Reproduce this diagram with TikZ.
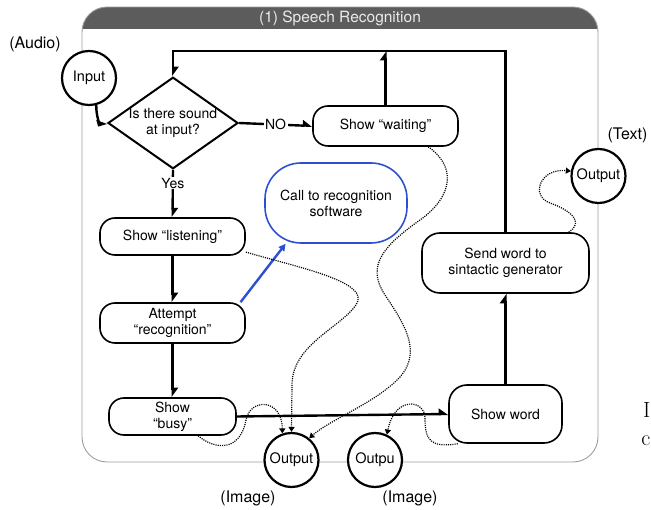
\documentclass[tikz,border=0pt]{standalone}
\usepackage{fontspec}
\setsansfont{TeX Gyre Heros}
\usetikzlibrary{shapes.geometric,arrows.meta}

\definecolor{hdrgray}{HTML}{5C5C5C}
\definecolor{framegray}{HTML}{9C9C9C}
\definecolor{callblue}{HTML}{2E4FD0}

\begin{document}
\begin{tikzpicture}[x=1pt,y=-1pt,font=\sffamily\fontsize{14}{16}\selectfont,
  box/.style={draw,line width=1.6pt,rounded corners=15pt,align=center,inner sep=0pt},
  io/.style={draw,circle,line width=2.2pt,minimum size=54pt,inner sep=0pt,fill=white,font=\sffamily\fontsize{14.5}{16}\selectfont},
  lbl/.style={font=\sffamily\fontsize{16}{18}\selectfont},
  flow/.style={line width=2.4pt,-{Triangle[harpoon,length=8pt,width=11pt]}},
  dotline/.style={line width=1.2pt,dash pattern=on 1.1pt off 1.1pt,-{Triangle[length=5pt,width=6pt]}}]
\useasboundingbox (0,0) rectangle (651,510);

% frame with title bar
\begin{scope}
\clip[rounded corners=25pt] (82,7) rectangle (598,462);
\fill[hdrgray] (82,7) rectangle (598,29);
\end{scope}
\draw[framegray,line width=0.9pt,rounded corners=25pt] (82,7) rectangle (598,462);
\node[text=white!92!black,font=\sffamily\fontsize{15.5}{18}\selectfont] (title) at (340,18) {(1) Speech Recognition};

% steps
\node[io] (in) at (89,78) {Input};
\node[lbl] (audio) at (35,44) {(Audio)};
\node[draw,diamond,aspect=1.42,line width=2pt,inner sep=0pt,align=center,
  minimum width=128pt,minimum height=90pt] (sound) at (173,123) {Is there sound\\at input?};
\node[box,minimum width=145pt,minimum height=40pt] (waiting) at (385.5,126) {Show ``waiting''};
\node[box,minimum width=145pt,minimum height=37pt] (listen) at (172.5,236.5) {Show ``listening''};
\node[box,minimum width=145pt,minimum height=40pt] (attempt) at (172.5,323) {Attempt\\``recognition''};
\node[box,minimum width=127pt,minimum height=37pt] (busy) at (172.5,416.5) {Show\\``busy''};
\node[box,draw=callblue,rounded corners=36pt,minimum width=142pt,minimum height=80pt] (call) at (336,203) {Call to recognition\\software};
\node[box,rounded corners=18pt,minimum width=113pt,minimum height=58pt] (word) at (505.5,414) {Show word};
\node[box,rounded corners=18pt,minimum width=167pt,minimum height=60pt] (send) at (505.5,263) {Send word to\\sintactic generator};

% outputs
\node[io] (out1) at (291.5,460) {Output};
\node[io] (out2) at (375,460) {Outpu};
\node[io] (out3) at (598.5,176) {Output};
\node[lbl] (img1) at (248,498) {(Image)};
\node[lbl] (img2) at (410,498) {(Image)};
\node[lbl,anchor=east] (txt) at (651,135) {(Text)};
\node[anchor=east,inner sep=0.5pt,font=\rmfamily\fontsize{22}{24}\selectfont] (strayI) at (651,410) {I};
\node[anchor=east,inner sep=0.5pt,font=\rmfamily\fontsize{22}{24}\selectfont] (strayc) at (651,441) {c};

% main flow
\coordinate (loop) at (300,51);
\draw[flow] (in.-75) .. controls (96,116) and (100,125) .. (sound.west);
\draw[flow] (sound.east) -- node[fill=white,inner sep=1.5pt] (no) {NO} (waiting.west);
\draw[flow] (sound.south) -- node[fill=white,inner sep=1pt,pos=0.28] (yes) {Yes} (listen.north);
\draw[flow] (listen.south) -- (attempt.north);
\draw[flow] (attempt.south) -- (busy.north);
\draw[flow] (busy.east) -- (word.west);
\draw[flow] (word.north) -- (send.south);
\draw[flow] (send.north) |- (loop) -| (sound.north);
\draw[flow] (waiting.north) -- (waiting.north |- loop);
\draw[callblue,line width=2.4pt,-{Triangle[length=7pt,width=7pt]}] (attempt.17) -- (call.219);

% outputs (dotted)
\draw[dotline] (listen.-12) .. controls (300,268) and (372,282) .. (356,305)
  .. controls (340,328) and (292,345) .. (292,385) -- (out1.north);
\draw[dotline] (waiting.-26) .. controls (455,165) and (455,195) .. (420,220)
  .. controls (385,245) and (365,265) .. (385,295)
  .. controls (405,325) and (425,355) .. (395,382)
  .. controls (370,405) and (330,420) .. (out1.51);
\draw[dotline] (busy.-37) .. controls (215,450) and (240,452) .. (246,420)
  .. controls (250,398) and (282,398) .. (out1.109);
\draw[dotline] (word.212) .. controls (430,448) and (425,440) .. (425,418)
  .. controls (425,400) and (395,395) .. (out2.65);
\draw[dotline] (send.26) .. controls (585,222) and (570,210) .. (550,203)
  .. controls (530,196) and (540,168) .. (out3.170);
\end{tikzpicture}
\end{document}
